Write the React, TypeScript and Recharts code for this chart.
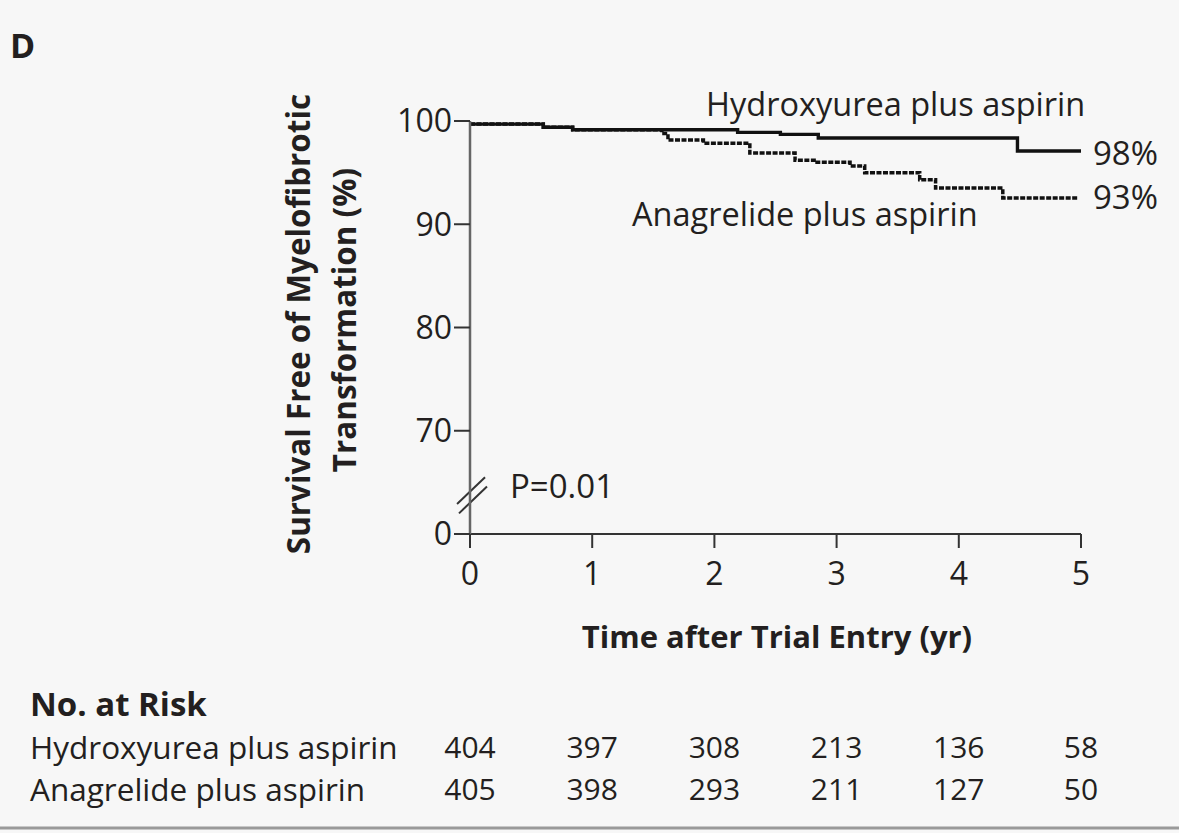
import React from "react";
import { LineChart, Line, XAxis, YAxis, ReferenceLine } from "recharts";

// Kaplan-Meier estimates (time in years, survival %)
const hydroxyureaCurve = [
  { t: 0, s: 99.7 },
  { t: 0.6, s: 99.4 },
  { t: 0.84, s: 99.15 },
  { t: 2.19, s: 98.9 },
  { t: 2.54, s: 98.7 },
  { t: 2.85, s: 98.35 },
  { t: 4.48, s: 97.1 },
  { t: 5.0, s: 97.1 },
];

const anagrelideCurve = [
  { t: 0, s: 99.7 },
  { t: 0.6, s: 99.4 },
  { t: 0.84, s: 99.15 },
  { t: 1.57, s: 98.8 },
  { t: 1.62, s: 98.15 },
  { t: 1.91, s: 97.85 },
  { t: 2.29, s: 96.9 },
  { t: 2.66, s: 96.2 },
  { t: 2.84, s: 96.0 },
  { t: 3.11, s: 95.65 },
  { t: 3.23, s: 95.0 },
  { t: 3.68, s: 94.3 },
  { t: 3.81, s: 93.5 },
  { t: 4.36, s: 92.55 },
  { t: 4.97, s: 92.55 },
];

const xTicks = [0, 1, 2, 3, 4, 5];
const yTicks = [60, 70, 80, 90, 100];
const yTickLabels: Record<number, string> = { 60: "0", 70: "70", 80: "80", 90: "90", 100: "100" };

const riskGroups = ["Hydroxyurea plus aspirin", "Anagrelide plus aspirin"];
const riskHydroxyurea = [404, 397, 308, 213, 136, 58];
const riskAnagrelide = [405, 398, 293, 211, 127, 50];

const FONT = "'Open Sans', 'Noto Sans', sans-serif";
const TEXT = "#231f20";

const W = 1179;
const H = 833;
const PLOT_LEFT = 470;
const PLOT_RIGHT = 1081;
const YAXIS_W = 70;
const XAXIS_H = 56;
const PLOT_TOP = 121;
const PLOT_BOTTOM = 534;

const xPix = (t: number) => PLOT_LEFT + ((PLOT_RIGHT - PLOT_LEFT) * t) / 5;

export default function App() {
  const riskRows = [riskHydroxyurea, riskAnagrelide];
  const rowY = [746, 788];
  return (
    <div
      style={{
        position: "absolute",
        left: 0,
        top: 0,
        width: W,
        height: H,
        background: "#f7f7f7",
        overflow: "hidden",
      }}
    >
      <div style={{ position: "absolute", left: 0, top: 0 }}>
        <LineChart
          width={W}
          height={H}
          margin={{
            top: PLOT_TOP,
            right: W - PLOT_RIGHT,
            left: PLOT_LEFT - YAXIS_W,
            bottom: H - PLOT_BOTTOM - XAXIS_H,
          }}
        >
          <XAxis
            type="number"
            dataKey="t"
            domain={[0, 5]}
            ticks={xTicks}
            height={XAXIS_H}
            tickSize={14}
            tickMargin={14}
            tick={{ fill: TEXT, fontSize: 32, fontFamily: FONT }}
            axisLine={{ stroke: "#333", strokeWidth: 2 }}
            tickLine={{ stroke: "#333", strokeWidth: 2 }}
            allowDuplicatedCategory={false}
          />
          <YAxis
            type="number"
            dataKey="s"
            domain={[60, 100]}
            ticks={yTicks}
            width={YAXIS_W}
            tickSize={16}
            tickMargin={2}
            tickFormatter={(v: number) => yTickLabels[v] ?? String(v)}
            tick={{ fill: TEXT, fontSize: 32, fontFamily: FONT }}
            axisLine={{ stroke: "#666", strokeWidth: 2.5 }}
            tickLine={{ stroke: "#333", strokeWidth: 2 }}
            allowDataOverflow
          />
          <ReferenceLine
            segment={[
              { x: -0.106, y: 62.9 },
              { x: 0.123, y: 65.5 },
            ]}
            stroke="#333"
            strokeWidth={2}
            ifOverflow="visible"
          />
          <ReferenceLine
            segment={[
              { x: -0.09, y: 62.0 },
              { x: 0.139, y: 64.6 },
            ]}
            stroke="#333"
            strokeWidth={2}
            ifOverflow="visible"
          />
          <Line
            data={anagrelideCurve}
            dataKey="s"
            type="stepAfter"
            stroke="#111"
            strokeWidth={3.5}
            strokeDasharray="5 1.5"
            dot={false}
            isAnimationActive={false}
          />
          <Line
            data={hydroxyureaCurve}
            dataKey="s"
            type="stepAfter"
            stroke="#111"
            strokeWidth={3.4}
            dot={false}
            isAnimationActive={false}
          />
        </LineChart>
      </div>
      <svg
        width={W}
        height={H}
        style={{ position: "absolute", left: 0, top: 0, pointerEvents: "none" }}
        fontFamily={FONT}
      >
        <text x={10} y={45} dominantBaseline="central" fontSize={34} fontWeight={700} fill={TEXT}>
          D
        </text>
        <text x={706} y={103} dominantBaseline="central" fontSize={32.5} fill={TEXT}>
          Hydroxyurea plus aspirin
        </text>
        <text x={632} y={213} dominantBaseline="central" fontSize={32.5} fill={TEXT}>
          Anagrelide plus aspirin
        </text>
        <text x={1093} y={152} dominantBaseline="central" fontSize={33} fill={TEXT}>
          98%
        </text>
        <text x={1093} y={196} dominantBaseline="central" fontSize={33} fill={TEXT}>
          93%
        </text>
        <text x={510} y={485} dominantBaseline="central" fontSize={33} fill={TEXT}>
          P=0.01
        </text>
        <text
          transform="translate(297,324) rotate(-90)"
          textAnchor="middle"
          dominantBaseline="central"
          fontSize={31.4}
          fontWeight={700}
          fill={TEXT}
        >
          Survival Free of Myelofibrotic
        </text>
        <text
          transform="translate(343,320) rotate(-90)"
          textAnchor="middle"
          dominantBaseline="central"
          fontSize={31.4}
          fontWeight={700}
          fill={TEXT}
        >
          Transformation (%)
        </text>
        <text x={777} y={636} textAnchor="middle" dominantBaseline="central" fontSize={31} fontWeight={700} fill={TEXT}>
          Time after Trial Entry (yr)
        </text>
        <text x={30} y={703} dominantBaseline="central" fontSize={33} fontWeight={700} fill={TEXT}>
          No. at Risk
        </text>
        {riskGroups.map((g, i) => (
          <text key={g} x={30} y={rowY[i]} dominantBaseline="central" fontSize={31.5} fill={TEXT}>
            {g}
          </text>
        ))}
        {riskRows.map((row, i) =>
          row.map((n, j) => (
            <text
              key={`${i}-${j}`}
              x={xPix(xTicks[j])}
              y={rowY[i]}
              textAnchor="middle"
              dominantBaseline="central"
              fontSize={30}
              fill={TEXT}
            >
              {n}
            </text>
          ))
        )}
        <line x1={0} x2={W} y1={828} y2={828} stroke="#9a9a9a" strokeWidth={3} />
      </svg>
    </div>
  );
}
